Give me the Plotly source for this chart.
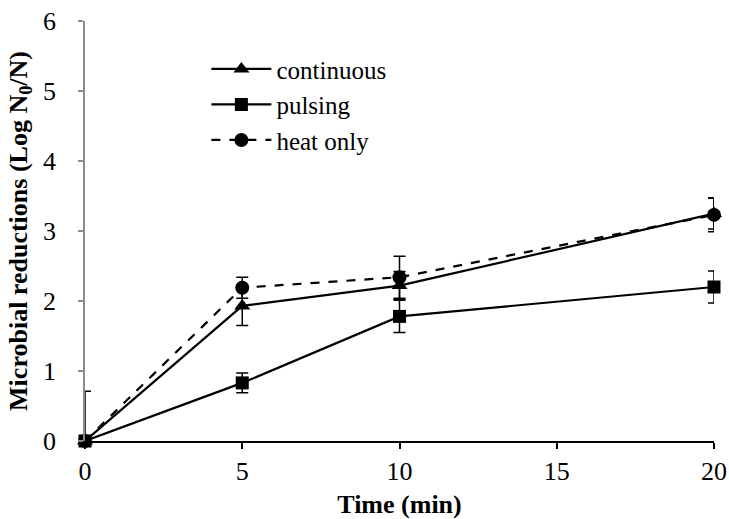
import plotly.graph_objects as go

time_min = [0, 5, 10, 20]

continuous = [0, 1.93, 2.22, 3.25]
continuous_err = [0, 0.28, 0.20, 0.22]

pulsing = [0, 0.83, 1.78, 2.20]
pulsing_err = [0, 0.14, 0.23, 0.23]

heat_only = [0, 2.19, 2.34, 3.23]
heat_only_err = [0, 0.15, 0.30, 0.24]

# error bar at time 0 (partly clipped by the axes in the original)
zero_x = [0]
zero_y = [0]
zero_err = [0.71]

FONT = "Liberation Serif"

fig = go.Figure()

def add_series(name, y, err, symbol, size, dash):
    fig.add_trace(go.Scatter(
        x=time_min, y=y, name=name, mode="lines+markers",
        line=dict(color="black", width=2.2, dash=dash),
        marker=dict(symbol=symbol, size=size, color="black"),
        error_y=dict(type="data", array=err, visible=True, color="black",
                     thickness=1.5, width=6),
        cliponaxis=False,
    ))

add_series("continuous", continuous, continuous_err, "triangle-up", 14, "solid")
add_series("pulsing", pulsing, pulsing_err, "square", 13, "solid")
add_series("heat only", heat_only, heat_only_err, "circle", 14, "dash")

fig.add_trace(go.Scatter(
    x=zero_x, y=zero_y, mode="markers", showlegend=False,
    marker=dict(size=1, opacity=0, color="black"),
    error_y=dict(type="data", array=zero_err, visible=True, color="black",
                 thickness=1.5, width=6),
    cliponaxis=True, hoverinfo="skip",
))

fig.update_layout(
    width=729, height=519,
    margin=dict(l=85, r=15, t=21, b=78),
    paper_bgcolor="white", plot_bgcolor="white",
    font=dict(family=FONT, size=26, color="black"),
    showlegend=True,
    legend=dict(x=0.193, y=0.94, xanchor="left", yanchor="top",
                bgcolor="rgba(0,0,0,0)", font=dict(family=FONT, size=25),
                itemwidth=60, tracegroupgap=0),
    xaxis=dict(
        range=[0, 20], tickvals=[0, 5, 10, 15, 20], automargin=False,
        showgrid=False, zeroline=False,
        showline=True, linecolor="black", linewidth=2,
        ticks="outside", ticklen=6, tickwidth=2, tickcolor="black",
        tickfont=dict(family=FONT, size=26),
        title=dict(text="<b>Time (min)</b>", font=dict(family=FONT, size=26), standoff=11),
    ),
    yaxis=dict(
        range=[0, 6], tickvals=[0, 1, 2, 3, 4, 5, 6], automargin=False,
        showgrid=False, zeroline=False,
        showline=True, linecolor="#8c8c8c", linewidth=1.5,
        ticks="outside", ticklen=5, tickwidth=1.5, tickcolor="#8c8c8c",
        tickfont=dict(family=FONT, size=26), ticklabelstandoff=17,
        title=dict(text="<b>Microbial reductions (Log N<sub>0</sub>/N)</b>",
                   font=dict(family=FONT, size=26), standoff=8),
    ),
)

fig.write_html("out.html")
